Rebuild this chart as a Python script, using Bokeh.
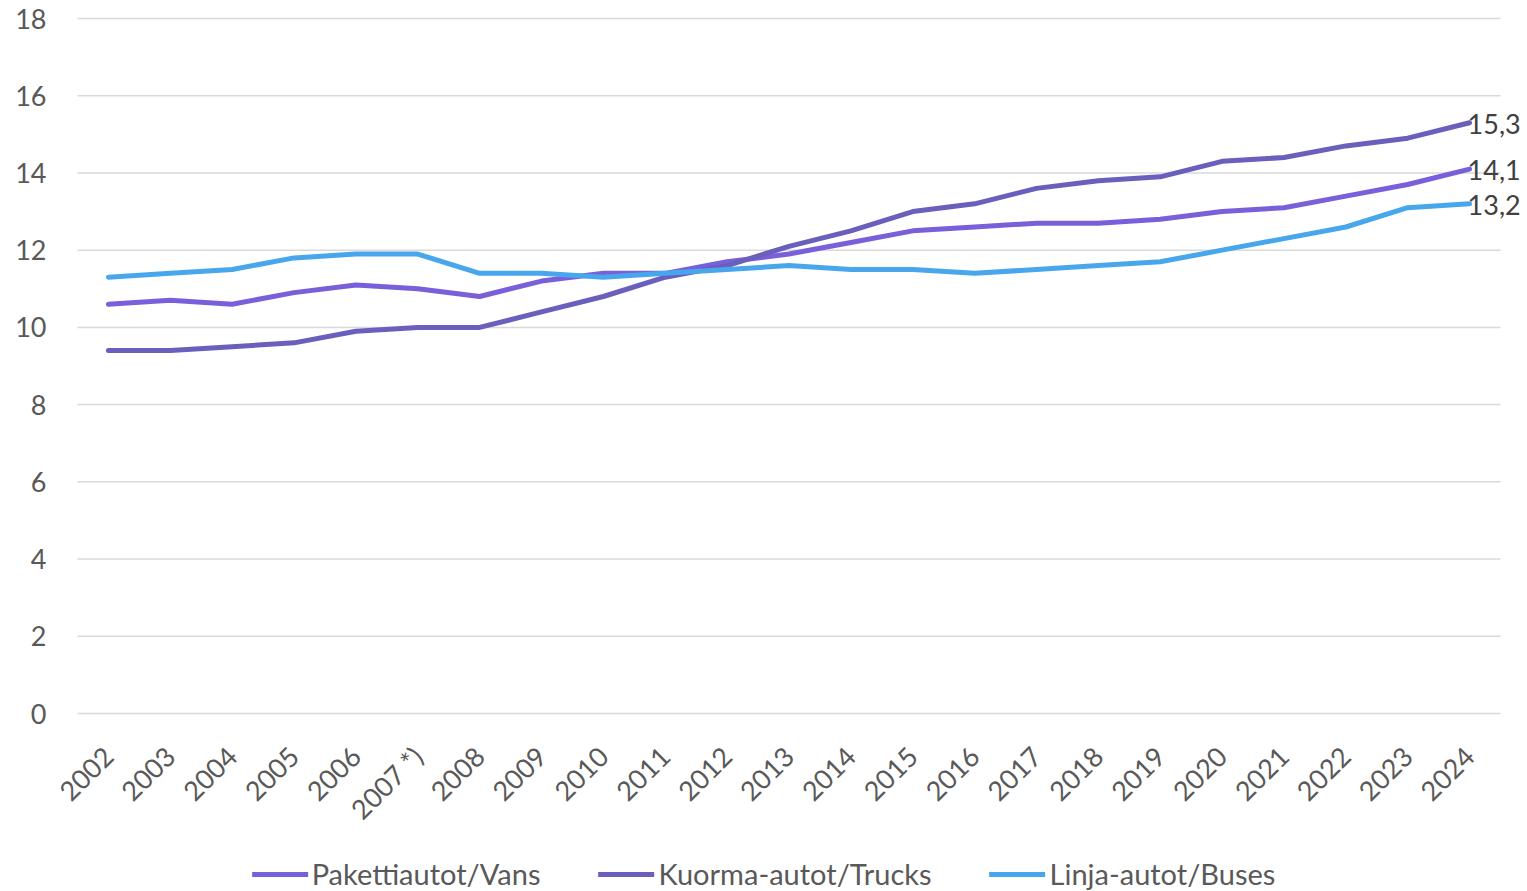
import math
from bokeh.plotting import figure
from bokeh.models import ColumnDataSource, Range1d, Legend, LegendItem, LabelSet
from bokeh.core.properties import value
from bokeh.embed import file_html
from bokeh.resources import INLINE

years = ["2002", "2003", "2004", "2005", "2006", "2007 *)", "2008", "2009", "2010", "2011",
         "2012", "2013", "2014", "2015", "2016", "2017", "2018", "2019", "2020", "2021",
         "2022", "2023", "2024"]
vans = [10.6, 10.7, 10.6, 10.9, 11.1, 11.0, 10.8, 11.2, 11.4, 11.4, 11.7, 11.9, 12.2, 12.5,
        12.6, 12.7, 12.7, 12.8, 13.0, 13.1, 13.4, 13.7, 14.1]
trucks = [9.4, 9.4, 9.5, 9.6, 9.9, 10.0, 10.0, 10.4, 10.8, 11.3, 11.6, 12.1, 12.5, 13.0,
          13.2, 13.6, 13.8, 13.9, 14.3, 14.4, 14.7, 14.9, 15.3]
buses = [11.3, 11.4, 11.5, 11.8, 11.9, 11.9, 11.4, 11.4, 11.3, 11.4, 11.5, 11.6, 11.5, 11.5,
         11.4, 11.5, 11.6, 11.7, 12.0, 12.3, 12.6, 13.1, 13.2]
series_names = ["Pakettiautot/Vans", "Kuorma-autot/Trucks", "Linja-autot/Buses"]
y_ticks = [0, 2, 4, 6, 8, 10, 12, 14, 16, 18]

colors = ["#7A5FDA", "#6A5FBC", "#48A7EC"]
FONT = "Lato"
TICK_COLOR = "#595959"

# ---- layout (pixels) ----
W, H = 1527, 891
PLOT_LEFT, PLOT_RIGHT = 77, 1500      # gridline extent
PLOT_TOP, PLOT_BOTTOM = 18, 713       # y=max and y=0 positions
n = len(years)
x_idx = list(range(n))
ymax = y_ticks[-1]
px_x = (PLOT_RIGHT - PLOT_LEFT) / n
px_y = (PLOT_BOTTOM - PLOT_TOP) / ymax
x_lo = -0.5 - PLOT_LEFT / px_x
x_hi = (n - 0.5) + (W - PLOT_RIGHT) / px_x
y_hi = ymax + PLOT_TOP / px_y
y_lo = -(H - PLOT_BOTTOM) / px_y

p = figure(width=W, height=H, output_backend="svg", toolbar_location=None,
           x_range=Range1d(x_lo, x_hi), y_range=Range1d(y_lo, y_hi), min_border=0)
p.outline_line_color = None
p.background_fill_color = "white"
p.border_fill_color = "white"
p.xaxis.visible = False
p.yaxis.visible = False
p.xgrid.grid_line_color = None
p.ygrid.grid_line_color = None

# horizontal gridlines at the y ticks, spanning the category extent
p.segment(x0=[-0.5] * len(y_ticks), x1=[n - 0.5] * len(y_ticks), y0=y_ticks, y1=y_ticks,
          line_color="#D9D9D9", line_width=1.5)

renderers = []
for name, vals, c in zip(series_names, [vans, trucks, buses], colors):
    src = ColumnDataSource(dict(x=x_idx, y=vals))
    r = p.line("x", "y", source=src, line_color=c, line_width=5, line_join="round", line_cap="round")
    renderers.append((name, r))

# y tick labels
ysrc = ColumnDataSource(dict(x=[-0.5] * len(y_ticks), y=y_ticks, t=[str(v) for v in y_ticks]))
p.add_layout(LabelSet(x="x", y="y", text="t", source=ysrc, text_font=value(FONT),
                      text_font_size="27px", text_color=TICK_COLOR, text_align="right",
                      text_baseline="middle", x_offset=-31))

# x tick labels (rotated)
xsrc = ColumnDataSource(dict(x=x_idx, y=[0] * n, t=years))
p.add_layout(LabelSet(x="x", y="y", text="t", source=xsrc, text_font=value(FONT),
                      text_font_size="27px", text_color=TICK_COLOR, text_align="right",
                      text_baseline="middle", angle=math.pi / 4, x_offset=0, y_offset=-38))

# end-of-line value labels
last_vals = [trucks[-1], vans[-1], buses[-1]]
last_src = ColumnDataSource(dict(
    x=[x_idx[-1]] * 3, y=last_vals,
    t=[f"{v:.1f}".replace(".", ",") for v in last_vals],
))
p.add_layout(LabelSet(x="x", y="y", text="t", source=last_src, text_font=value(FONT),
                      text_font_size="27px", text_color="#404040", text_align="left",
                      text_baseline="middle", x_offset=-2, y_offset=-1))

legend = Legend(items=[LegendItem(label=nm, renderers=[r]) for nm, r in renderers],
                orientation="horizontal", location="bottom_center",
                label_text_font=FONT, label_text_font_size="29px", label_text_color=TICK_COLOR,
                glyph_width=56, glyph_height=32, label_height=32, label_standoff=4, spacing=58,
                border_line_color=None, background_fill_alpha=0, padding=0, margin=0)
p.add_layout(legend, "center")

open("out.html", "w").write(file_html(p, INLINE))
